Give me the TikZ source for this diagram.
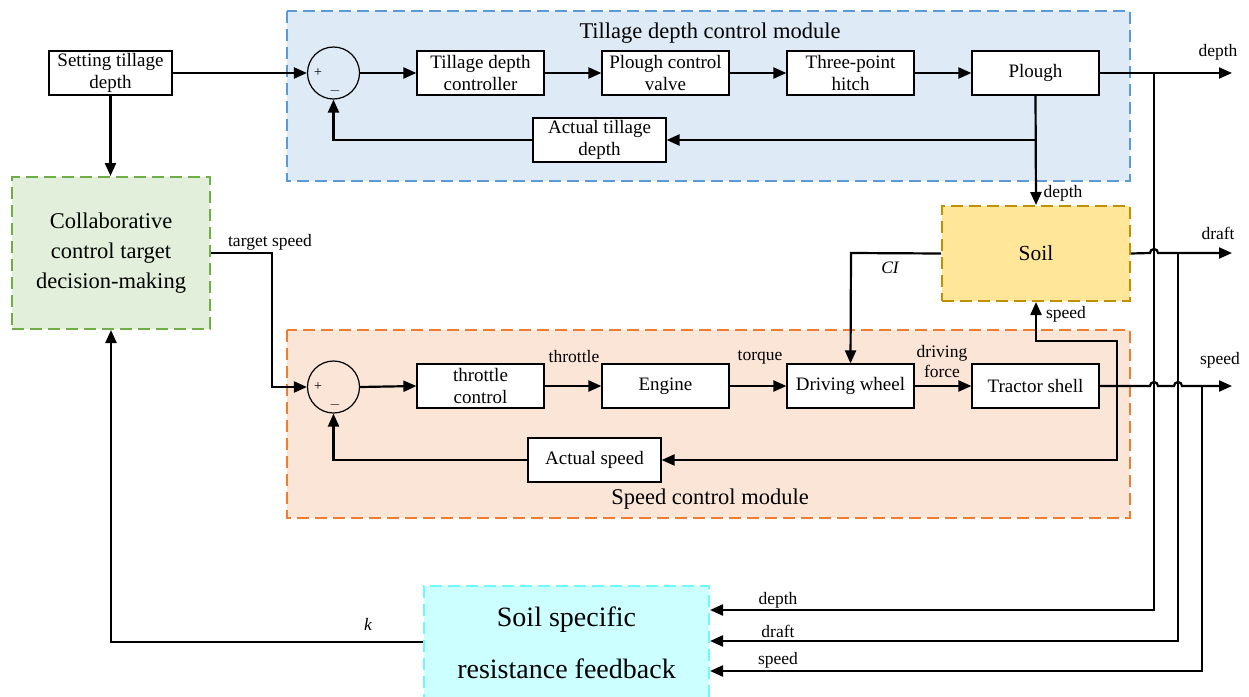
\documentclass[tikz,border=0pt]{standalone}
\usepackage{fontspec}
\setmainfont{LiberationSerif}[Extension=.ttf, UprightFont=*-Regular, ItalicFont=*-Italic, BoldFont=*-Bold]
\usetikzlibrary{arrows.meta,calc}
\definecolor{bluefill}{RGB}{222,234,246}
\definecolor{blueline}{RGB}{91,155,213}
\definecolor{orfill}{RGB}{251,229,214}
\definecolor{orline}{RGB}{237,125,49}
\definecolor{grfill}{RGB}{226,239,218}
\definecolor{grline}{RGB}{112,173,71}
\definecolor{soilfill}{RGB}{255,230,153}
\definecolor{soilline}{RGB}{191,144,0}
\definecolor{cyfill}{RGB}{204,255,255}
\definecolor{cyline}{RGB}{110,250,250}
\newcommand\fbx{\fontsize{19}{22}\selectfont}
\newcommand\flab{\fontsize{17.5}{19}\selectfont}
\tikzset{
  blk/.style={draw, fill=white, line width=1.2pt, minimum width=127pt, minimum height=44pt,
    inner sep=0pt, align=center, font=\fbx},
  sumc/.style={draw, circle, line width=1.2pt, minimum size=52pt, inner sep=0pt},
  frame/.style={line width=2pt, dash pattern=on 12pt off 6pt},
  arr/.style={-{Triangle[length=13pt,width=11pt]}, line width=2.2pt},
  lab/.style={font=\flab, inner sep=0pt},
  sgn/.style={font=\fontsize{14}{14}\selectfont, inner sep=0pt}
}
\begin{document}
\begin{tikzpicture}[x=1pt,y=-1pt]
\useasboundingbox (0,0) rectangle (1249,696);
% module frames
\draw[frame, draw=blueline, fill=bluefill] (287,11) rectangle (1130,181);
\draw[frame, draw=orline, fill=orfill] (287,330) rectangle (1130,518);
\node[font=\fontsize{22.5}{24}\selectfont, inner sep=0pt] (t1) at (710,33) {Tillage depth control module};
\node[font=\fontsize{22.5}{24}\selectfont, inner sep=0pt] (t2) at (710,499) {Speed control module};
% nodes
\node[blk, minimum width=123pt] (set) at (110.5,73) {Setting tillage\\depth};
\node[sumc] (s1) at (333.5,73) {};
\node[sgn] (p1) at (318,73) {+};
\node[sgn] (m1) at (335,91) {$-$};
\node[blk] (tdc) at (480.5,73) {Tillage depth\\controller};
\node[blk] (pcv) at (665.5,73) {Plough control\\valve};
\node[blk] (tph) at (850.5,73) {Three-point\\hitch};
\node[blk] (plo) at (1035.5,73) {Plough};
\node[blk, minimum width=133pt] (atd) at (599.5,140) {Actual tillage\\depth};
\node[draw=soilline, fill=soilfill, frame, minimum width=188pt, minimum height=95pt, inner sep=0pt,
  font=\fontsize{21.5}{24}\selectfont] (soil) at (1036,253.5) {Soil};
\node[sumc] (s2) at (333.5,387) {};
\node[sgn] (p2) at (318,387) {+};
\node[sgn] (m2) at (335,405) {$-$};
\node[blk] (thr) at (480.5,386) {throttle\\control};
\node[blk] (eng) at (665.5,386) {Engine};
\node[blk] (dw) at (850.5,386) {Driving wheel};
\node[blk] (ts) at (1035.5,386) {Tractor shell};
\node[blk, minimum width=133pt] (as) at (594.5,460) {Actual speed};
\node[draw=grline, fill=grfill, frame, minimum width=198pt, minimum height=152pt, inner sep=0pt,
  align=center, font=\fontsize{22.5}{30}\selectfont] (col) at (111,253) {Collaborative\\control target\\decision-making};
\node[draw=cyline, fill=cyfill, frame, minimum width=285pt, minimum height=114pt, inner sep=0pt,
  align=center, font=\fontsize{28}{52}\selectfont] (ssr) at (566.5,643) {Soil specific\\resistance feedback};
% coordinates
\coordinate (oD) at (1232,73);
\coordinate (oF) at (1232,253);
\coordinate (oS) at (1232,386);
\coordinate (vD) at (1154,73);
\coordinate (vF) at (1178,253);
\coordinate (vS) at (1202,386);
\coordinate (br1) at (1036,140);
\coordinate (br2) at (1117,386);
\coordinate (ci) at (851,253);
\coordinate (ts1) at (272,253);
\coordinate (kk) at (111,642);
% tillage depth loop
\draw[arr] (set.east) -- (s1.west);
\draw[arr] (set.south) -- (set.south |- col.north);
\draw[arr] (s1.east) -- (tdc.west);
\draw[arr] (tdc.east) -- (pcv.west);
\draw[arr] (pcv.east) -- (tph.west);
\draw[arr] (tph.east) -- (plo.west);
\draw[arr] (plo.east) -- (oD);
\draw[arr] (plo.south) -- (soil.north);
\draw[arr] (br1) -- (atd.east);
\draw[arr] (atd.west) -| (s1.south);
% soil outputs
\draw[arr] (soil.east) -- (1150,253) arc[start angle=180,end angle=0,radius=4pt] -- (oF);
\draw[arr] (soil.west) -- (ci) -- (dw.north);
% speed loop
\draw[arr] (col.east |- ts1) -- (ts1) |- (s2.west);
\draw[arr] (s2.east) -- (thr.west);
\draw[arr] (thr.east) -- (eng.west);
\draw[arr] (eng.east) -- (dw.west);
\draw[arr] (dw.east) -- (ts.west);
\draw[arr] (ts.east) -- (1150,386) arc[start angle=180,end angle=0,radius=4pt] -- (1174,386)
  arc[start angle=180,end angle=0,radius=4pt] -- (oS);
\draw[arr] (br2) -- (1117,341) -| (soil.south);
\draw[arr] (br2) |- (as.east);
\draw[arr] (as.west) -| (s2.south);
% feedback to soil specific resistance
\draw[arr] (vD) |- (ssr.east |- 0,610);
\draw[arr] (vF) |- (ssr.east |- 0,641);
\draw[arr] (vS) |- (ssr.east |- 0,671);
\draw[arr] (ssr.west |- kk) -- (kk) -- (col.south);
% labels
\node[lab] (lD) at (1218,52) {depth};
\node[lab] (lF) at (1218,233) {draft};
\node[lab] (lS) at (1220,360) {speed};
\node[lab] (ld2) at (1063,193) {depth};
\node[lab] (ls2) at (1066,314) {speed};
\node[lab] (lci) at (890,268) {\itshape CI};
\node[lab] (lts) at (270,242) {target speed};
\node[lab] (lth) at (574,357) {throttle};
\node[lab] (ltq) at (760,357) {torque};
\node[lab, align=center, font=\fontsize{17.5}{20}\selectfont] (ldf) at (942,362) {driving\\force};
\node[lab] (lk) at (368,624) {\itshape k};
\node[lab] (bD) at (778,600) {depth};
\node[lab] (bF) at (778,631) {draft};
\node[lab] (bS) at (778,660) {speed};
\end{tikzpicture}
\end{document}
